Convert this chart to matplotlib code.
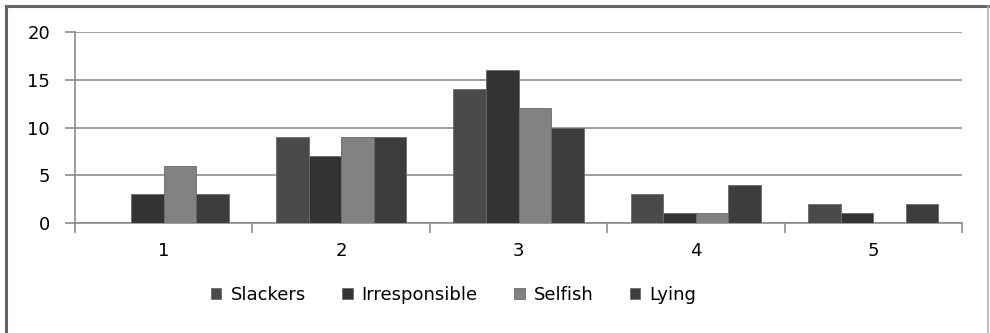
import numpy as np
import matplotlib.pyplot as plt
from matplotlib.lines import Line2D
from matplotlib.patches import Patch

categories = ["1", "2", "3", "4", "5"]
slackers = [0, 9, 14, 3, 2]
irresponsible = [3, 7, 16, 1, 1]
selfish = [6, 9, 12, 1, 0]
lying = [3, 9, 10, 4, 2]

series = [
    ("Slackers", slackers, "#4a4a4a"),
    ("Irresponsible", irresponsible, "#333333"),
    ("Selfish", selfish, "#828282"),
    ("Lying", lying, "#3d3d3d"),
]

fig = plt.figure(figsize=(9.9, 3.33), dpi=100)
ax = fig.add_axes([0.0758, 0.3303, 0.8959, 0.5736])

x = np.arange(len(categories))
bw = 1 / (4 + 1.45)
for i, (name, vals, col) in enumerate(series):
    ax.bar(x + (i - 1.5) * bw, vals, width=bw, color=col,
           edgecolor="#6a6a6a", linewidth=0.6, zorder=3)

ax.set_xlim(-0.5, len(categories) - 0.5)
ax.set_ylim(0, 20)
ax.set_yticks([0, 5, 10, 15, 20])
ax.yaxis.grid(True, color="#8c8c8c", linewidth=1.2, zorder=0)

# category ticks sit on the group boundaries, labels in the middle
ax.set_xticks(np.arange(-0.5, len(categories)), minor=False)
ax.set_xticklabels([])
ax.set_xticks(x, minor=True)
ax.set_xticklabels(categories, minor=True)
ax.tick_params(axis="x", which="major", length=7, color="#8c8c8c", width=1.2)
ax.tick_params(axis="x", which="minor", length=0, pad=14, labelsize=13)
ax.tick_params(axis="y", length=7, color="#8c8c8c", width=1.2, pad=11, labelsize=13)

for s in ["top", "right"]:
    ax.spines[s].set_visible(False)
for s in ["left", "bottom"]:
    ax.spines[s].set_color("#8c8c8c")
    ax.spines[s].set_linewidth(1.2)

handles = [Patch(facecolor=c, edgecolor="#6a6a6a", linewidth=0.6) for _, _, c in series]
fig.legend(handles, [n for n, _, _ in series], loc="center",
           bbox_to_anchor=(0.458, 0.114), ncol=4, frameon=False,
           fontsize=13, handlelength=0.6, handleheight=0.6,
           handletextpad=0.5, columnspacing=2.0)

# chart frame
fig.add_artist(Line2D([0.006, 0.006], [0.0, 0.982], color="#666666", linewidth=2.2))
fig.add_artist(Line2D([0.006, 0.999], [0.982, 0.982], color="#666666", linewidth=2.2))
fig.add_artist(Line2D([0.998, 0.998], [0.0, 0.982], color="#b0b0b0", linewidth=1.2))

fig.savefig("out.png", dpi=100, facecolor="white")
